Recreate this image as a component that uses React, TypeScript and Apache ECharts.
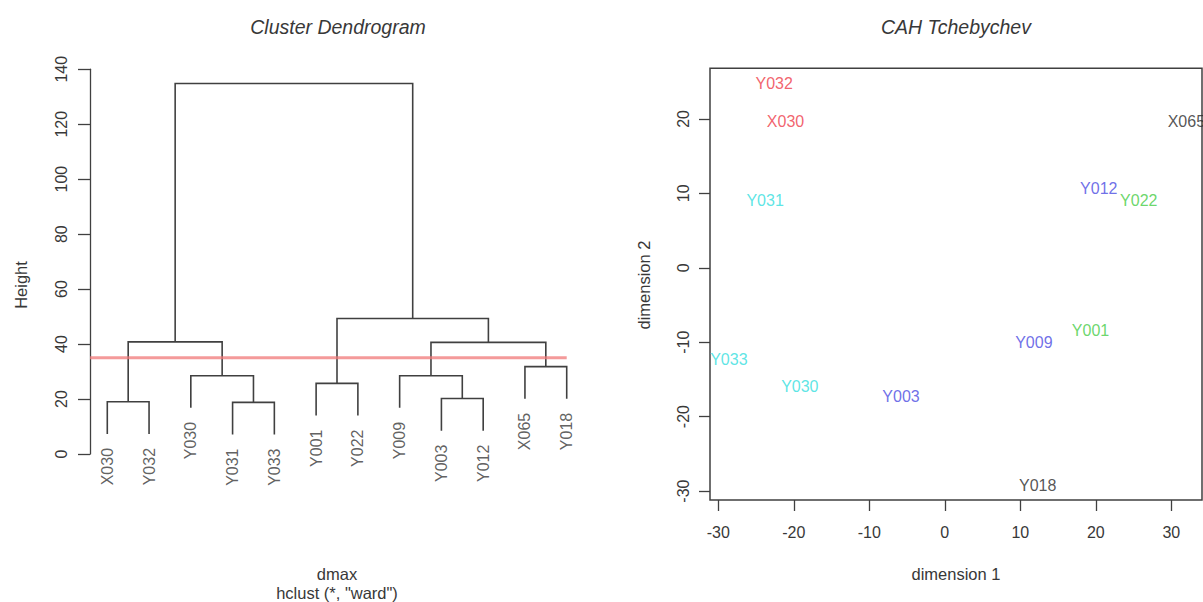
import React, { useEffect, useRef } from 'react';
import * as echarts from 'echarts';

// ---- Dendrogram data (left panel) ----
const leafLabels = ['X030', 'Y032', 'Y030', 'Y031', 'Y033', 'Y001', 'Y022', 'Y009', 'Y003', 'Y012', 'X065', 'Y018'];
// merge table in hclust style: negative = leaf (1-based), positive = earlier merge (1-based)
const mergeLeft = [-1, -4, -9, -6, -3, -8, -11, 6, 1, 4, 9];
const mergeRight = [-2, -5, -10, -7, 2, 3, -12, 7, 5, 8, 10];
const mergeHeight = [19.0, 18.8, 20.2, 25.7, 28.5, 28.5, 31.8, 40.6, 40.8, 49.3, 134.8];
const hang = 11.7;
const cutHeight = 35;

// ---- MDS data (right panel) ----
const pointNames = ['Y032', 'X030', 'Y031', 'Y033', 'Y030', 'Y003', 'Y012', 'Y022', 'Y001', 'Y009', 'X065', 'Y018'];
const dim1 = [-22.6, -21.1, -23.8, -28.6, -19.2, -5.8, 20.4, 25.7, 19.3, 11.8, 32.0, 12.3];
const dim2 = [24.8, 19.6, 9.1, -12.3, -15.9, -17.3, 10.7, 9.0, -8.4, -10.1, 19.7, -29.2];
const pointCluster = [0, 0, 1, 1, 1, 3, 3, 2, 2, 3, 4, 4];
const clusterColors = ['#ee3a48', '#33dede', '#45cc45', '#4a4ae2', '#2a2a2a'];
const dim1Ticks = [-30, -20, -10, 0, 10, 20, 30];
const dim2Ticks = [-30, -20, -10, 0, 10, 20];

const FONT = '"Liberation Sans", Arial, Helvetica, sans-serif';
const INK = '#383838';
const LINE = '#404040';

const X_MIN = 0.586;
const X_MAX = 12.414;

function buildDendrogram() {
  const leafX = leafLabels.map((_, i) => i + 1);
  const leafBottom: number[] = leafLabels.map(() => 0);
  const nodeX: number[] = [];
  const nodeH: number[] = [];
  const segs: { coords: number[][] }[] = [];
  mergeLeft.forEach((l, k) => {
    const r = mergeRight[k];
    const h = mergeHeight[k];
    const pos = (c: number) => {
      if (c < 0) {
        leafBottom[-c - 1] = h - hang;
        return [leafX[-c - 1], h - hang];
      }
      return [nodeX[c - 1], nodeH[c - 1]];
    };
    const [x1, y1] = pos(l);
    const [x2, y2] = pos(r);
    nodeX.push((x1 + x2) / 2);
    nodeH.push(h);
    segs.push({ coords: [[x1, y1], [x1, h], [x2, h], [x2, y2]] });
  });
  return { leafX, leafBottom, segs };
}

export default function App() {
  const ref = useRef<HTMLDivElement>(null);
  useEffect(() => {
    if (!ref.current) return;
    const chart = echarts.init(ref.current, null, { renderer: 'svg' });
    const { leafX, leafBottom, segs } = buildDendrogram();

    const txt = (text: string, x: number, y: number, size: number, opts: any = {}) => ({
      type: 'text',
      x,
      y,
      rotation: opts.rotation || 0,
      style: {
        text,
        fill: INK,
        font: `${opts.italic ? 'italic ' : ''}${size}px ${FONT}`,
        align: 'center',
        verticalAlign: 'middle',
        textAlign: 'center',
        textVerticalAlign: 'middle',
      },
    });

    const option: any = {
      animation: false,
      textStyle: { fontFamily: FONT },
      grid: [
        { left: 90, top: 69.25, width: 494, height: 384.75, show: false },
        {
          left: 710, top: 68.3, width: 492, height: 431.7, show: true,
          borderColor: LINE, borderWidth: 1.5, backgroundColor: 'transparent',
        },
      ],
      xAxis: [
        { gridIndex: 0, type: 'value', min: X_MIN, max: X_MAX, show: false },
        {
          gridIndex: 1, type: 'value', min: -31.1, max: 34.07, position: 'bottom',
          axisLine: { show: false, onZero: false },
          axisTick: { show: true, length: 11, customValues: dim1Ticks, lineStyle: { color: LINE, width: 1.3 } },
          axisLabel: { customValues: dim1Ticks, fontSize: 16, color: INK, margin: 24, fontFamily: FONT },
          splitLine: { show: false },
        },
      ],
      yAxis: [
        {
          gridIndex: 0, type: 'value', min: 0, max: 140, interval: 20,
          axisLine: { show: true, onZero: false, lineStyle: { color: LINE, width: 1.3 } },
          axisTick: { show: true, length: 12, lineStyle: { color: LINE, width: 1.3 } },
          axisLabel: { rotate: 90, fontSize: 16, color: INK, margin: 21, fontFamily: FONT },
          splitLine: { show: false },
        },
        {
          gridIndex: 1, type: 'value', min: -31.2, max: 26.8, position: 'left',
          axisLine: { show: false, onZero: false },
          axisTick: { show: true, length: 11, customValues: dim2Ticks, lineStyle: { color: LINE, width: 1.3 } },
          axisLabel: { customValues: dim2Ticks, rotate: 90, fontSize: 16, color: INK, margin: 19, fontFamily: FONT },
          splitLine: { show: false },
        },
      ],
      series: [
        {
          type: 'lines',
          coordinateSystem: 'cartesian2d',
          xAxisIndex: 0,
          yAxisIndex: 0,
          polyline: true,
          silent: true,
          data: segs,
          lineStyle: { color: LINE, width: 1.6, opacity: 1 },
          z: 2,
        },
        {
          type: 'line',
          xAxisIndex: 0,
          yAxisIndex: 0,
          data: [[X_MIN, cutHeight], [leafX[leafX.length - 1], cutHeight]],
          symbol: 'none',
          silent: true,
          lineStyle: { color: '#f07878', width: 3, opacity: 0.75 },
          z: 3,
        },
        {
          type: 'scatter',
          xAxisIndex: 0,
          yAxisIndex: 0,
          symbolSize: 0,
          silent: true,
          data: leafLabels.map((n, i) => ({ name: n, value: [leafX[i], leafBottom[i]] })),
          label: {
            show: true,
            formatter: '{b}',
            position: 'bottom',
            distance: 14,
            rotate: 90,
            align: 'right',
            verticalAlign: 'middle',
            fontSize: 16,
            color: INK,
            fontFamily: FONT,
          },
        },
        {
          type: 'scatter',
          xAxisIndex: 1,
          yAxisIndex: 1,
          symbolSize: 0,
          silent: true,
          clip: false,
          data: pointNames.map((n, i) => ({
            name: n,
            value: [dim1[i], dim2[i]],
            label: { color: clusterColors[pointCluster[i]] },
          })),
          label: {
            show: true,
            formatter: '{b}',
            position: 'inside',
            fontSize: 16,
            fontFamily: FONT,
          },
        },
      ],
      graphic: [
        txt('Cluster Dendrogram', 338, 27, 19.5, { italic: true }),
        txt('CAH Tchebychev', 956, 27, 19.5, { italic: true }),
        txt('Height', 21, 285, 16.5, { rotation: Math.PI / 2 }),
        txt('dmax', 337, 574, 16.5),
        txt('hclust (*, "ward")', 337, 593, 16.5),
        txt('dimension 1', 956, 574, 16.5),
        txt('dimension 2', 644, 285, 16.5, { rotation: Math.PI / 2 }),
      ],
    };
    chart.setOption(option);
    return () => chart.dispose();
  }, []);
  return (
    <div
      ref={ref}
      style={{ position: 'absolute', left: 0, top: 0, width: 1203, height: 602, background: '#fff' }}
    />
  );
}
